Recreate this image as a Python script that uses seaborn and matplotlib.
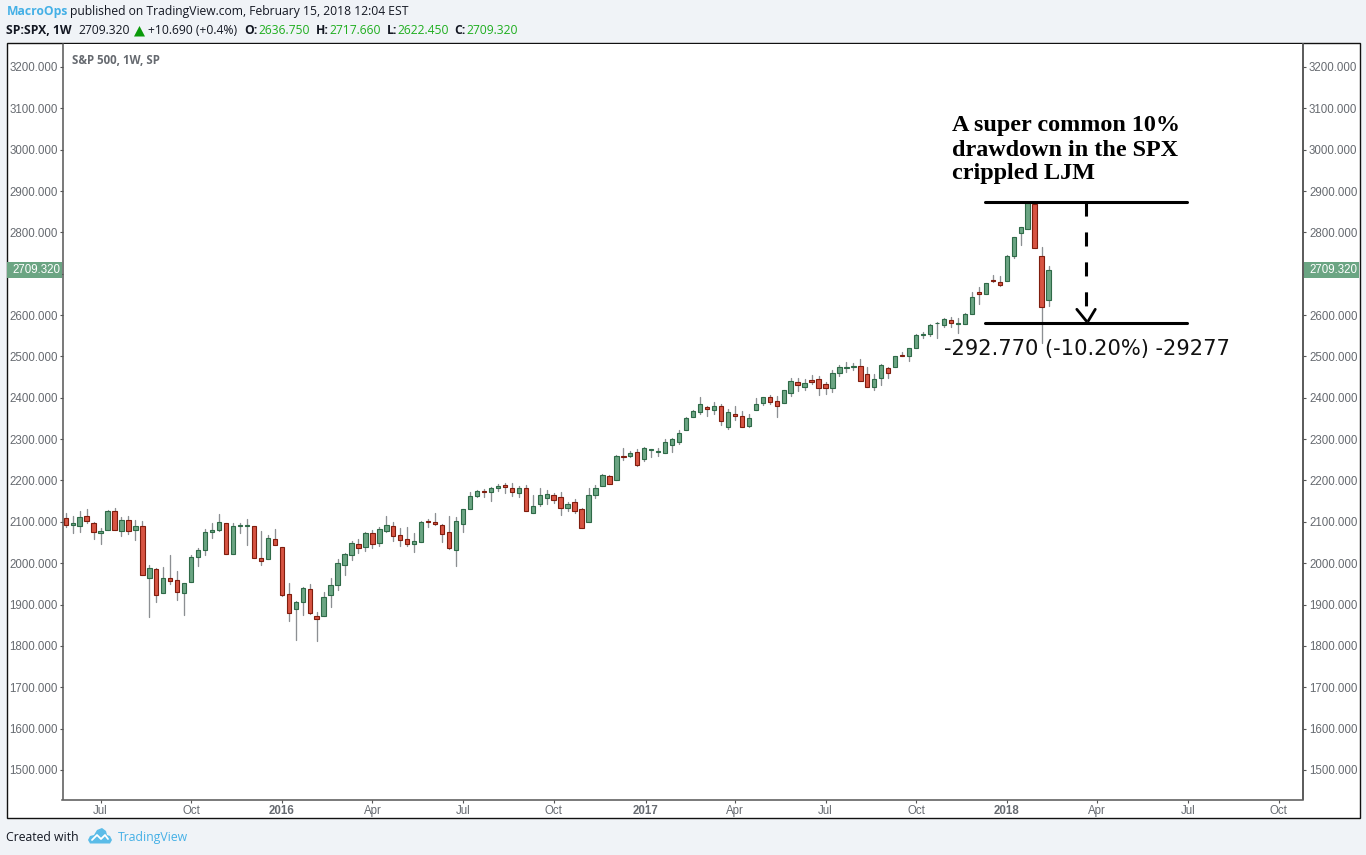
import pandas as pd
import matplotlib
matplotlib.use("Agg")
import matplotlib.pyplot as plt
import seaborn as sns
from matplotlib.lines import Line2D
from matplotlib.patches import Rectangle, Polygon

# weekly S&P 500 candles
opens = [2110, 2092, 2090, 2113, 2098, 2073, 2081, 2127, 2079, 2105, 2080, 2091, 1965, 1986, 1928, 1963, 1960, 1928,
         1955, 2014, 2033, 2076, 2080, 2098, 2023, 2089, 2090, 2090, 2013, 2010, 2059, 2038, 1925, 1890, 1906, 1938,
         1873, 1873, 1923, 1948, 1996, 2020, 2047, 2038, 2074, 2050, 2078, 2091, 2067, 2058, 2047, 2052, 2101, 2100,
         2092, 2076, 2032, 2095, 2132, 2162, 2174, 2172, 2183, 2188, 2183, 2170, 2183, 2121, 2143, 2158, 2165, 2161,
         2133, 2149, 2130, 2100, 2165, 2187, 2212, 2201, 2260, 2259, 2268, 2252, 2274, 2270, 2267, 2285, 2293, 2323,
         2354, 2365, 2377, 2371, 2379, 2329, 2362, 2357, 2332, 2370, 2387, 2401, 2393, 2387, 2411, 2439, 2427, 2444,
         2445, 2433, 2423, 2460, 2471, 2475, 2478, 2457, 2426, 2448, 2471, 2475, 2504, 2500, 2520, 2552, 2554, 2580,
         2577, 2587, 2578, 2578, 2602, 2657, 2651, 2686, 2679, 2683, 2743, 2799, 2809, 2868, 2742, 2636.75]
highs = [2122, 2115, 2127, 2130, 2099, 2084, 2129, 2134, 2111, 2113, 2105, 2103, 1995, 1988, 1990, 2021, 1980, 1952,
         2020, 2036, 2082, 2097, 2118, 2098, 2098, 2096, 2106, 2091, 2078, 2067, 2082, 2038, 1951, 1909, 1942, 1949,
         1883, 1931, 1963, 2009, 2024, 2053, 2058, 2076, 2080, 2088, 2114, 2100, 2084, 2088, 2072, 2101, 2106, 2121,
         2095, 2113, 2111, 2132, 2171, 2177, 2179, 2185, 2191, 2195, 2195, 2187, 2188, 2164, 2181, 2177, 2169, 2171,
         2149, 2156, 2134, 2183, 2190, 2216, 2213, 2261, 2278, 2272, 2275, 2280, 2277, 2278, 2301, 2302, 2322, 2354,
         2370, 2401, 2381, 2391, 2384, 2372, 2380, 2367, 2362, 2399, 2402, 2406, 2404, 2419, 2447, 2447, 2445, 2455,
         2453, 2439, 2466, 2479, 2486, 2483, 2493, 2475, 2457, 2481, 2474, 2501, 2510, 2520, 2554, 2560, 2578, 2584,
         2592, 2596, 2592, 2605, 2657, 2667, 2678, 2697, 2694, 2745, 2790, 2814, 2872, 2872, 2764, 2717.66]
lows = [2087, 2074, 2075, 2096, 2059, 2046, 2080, 2080, 2066, 2071, 2055, 1971, 1871, 1905, 1927, 1950, 1911, 1874,
        1954, 1993, 2020, 2060, 2079, 2022, 2022, 2072, 2044, 2012, 1996, 2009, 2043, 1921, 1860, 1814, 1875, 1876,
        1812, 1872, 1895, 1934, 1971, 2008, 2025, 2030, 2036, 2042, 2075, 2054, 2042, 2041, 2027, 2051, 2088, 2092,
        2052, 2035, 1993, 2075, 2131, 2161, 2160, 2150, 2174, 2170, 2163, 2160, 2126, 2121, 2139, 2142, 2146, 2116,
        2127, 2122, 2085, 2100, 2158, 2187, 2191, 2200, 2250, 2258, 2235, 2247, 2256, 2259, 2266, 2269, 2288, 2322,
        2353, 2361, 2356, 2361, 2335, 2324, 2346, 2329, 2330, 2370, 2383, 2385, 2353, 2387, 2404, 2416, 2420, 2433,
        2407, 2408, 2413, 2453, 2463, 2466, 2441, 2425, 2419, 2431, 2448, 2474, 2500, 2489, 2520, 2544, 2549, 2545,
        2570, 2570, 2557, 2578, 2602, 2627, 2650, 2679, 2671, 2682, 2739, 2769, 2808, 2763, 2533, 2622.45]
closes = [2092, 2096, 2111, 2103, 2076, 2078, 2127, 2081, 2105, 2079, 2091, 1972, 1989, 1922, 1963, 1957, 1930, 1952,
          2016, 2033, 2076, 2080, 2100, 2023, 2091, 2092, 2093, 2013, 2006, 2062, 2044, 1922, 1880, 1906, 1941, 1880,
          1865, 1919, 1948, 2001, 2023, 2050, 2037, 2074, 2047, 2082, 2093, 2066, 2057, 2047, 2053, 2100, 2099, 2094,
          2071, 2037, 2103, 2130, 2163, 2175, 2171, 2183, 2187, 2184, 2171, 2181, 2127, 2139, 2166, 2168, 2153, 2134,
          2142, 2127, 2086, 2166, 2183, 2214, 2192, 2260, 2257, 2266, 2238, 2278, 2276, 2272, 2294, 2300, 2316, 2352,
          2367, 2384, 2374, 2380, 2344, 2365, 2356, 2329, 2350, 2384, 2401, 2390, 2380, 2418, 2440, 2432, 2435, 2439,
          2424, 2424, 2459, 2474, 2474, 2478, 2441, 2427, 2445, 2479, 2461, 2500, 2502, 2520, 2552, 2555, 2575, 2582,
          2590, 2582, 2580, 2603, 2643, 2651, 2677, 2682, 2672, 2744, 2788, 2812, 2872, 2763, 2620, 2709.32]

price_ticks = [3200, 3100, 3000, 2900, 2800, 2700, 2600, 2500, 2400, 2300, 2200, 2100, 2000, 1900, 1800, 1700, 1600, 1500]
date_weeks = [5, 18, 31, 44, 57, 70, 83.2, 96, 109, 122, 135, 148, 161, 174]
date_labels = ["Jul", "Oct", "2016", "Apr", "Jul", "Oct", "2017", "Apr", "Jul", "Oct", "2018", "Apr", "Jul", "Oct"]

last_price = 2709.32
drawdown_top = 2872.87
drawdown_bottom = 2580.10

W, H = 1366, 855
GREEN_FILL, GREEN_EDGE = "#6ba583", "#2f6a48"
RED_FILL, RED_EDGE = "#d75442", "#7f1d0e"
GREY = "#666a70"
BLUE = "#45b0e6"
PRICE_GREEN = "#1eae1e"
AXIS = "#555555"


def fx(px):
    return px / W


def fy(px):
    return 1 - px / H


def top_text(x, y, s, color="#131722", weight="normal", size=8.7, family="Open Sans"):
    fig.text(fx(x), fy(y), s, color=color, fontweight=weight, fontsize=size, family=family,
             ha="left", va="center")


def price_label(p):
    # the 2700 label sits under the last price tag
    return "" if p == 2700 else f"{p:.3f}"


sns.set_theme(style="white")
plt.rcParams["font.family"] = ["Liberation Sans", "DejaVu Sans"]

fig = plt.figure(figsize=(W / 100, H / 100), dpi=100, facecolor="#f0f3f7")

# outer white frame of the chart
fig.add_artist(Rectangle((fx(6.5), fy(818)), fx(1353), 774.7 / H, transform=fig.transFigure,
                         facecolor="white", edgecolor="#111111", linewidth=1.0, zorder=0))

ax = fig.add_axes([fx(62.5), fy(799.5), fx(1303 - 62.5), (799.5 - 44) / H], facecolor="white", zorder=2)

df = pd.DataFrame({"week": range(len(opens)), "open": opens, "high": highs, "low": lows, "close": closes})
df["bottom"] = df[["open", "close"]].min(axis=1)
df["height"] = (df["close"] - df["open"]).abs()

wicks = pd.concat([df[["week", "low"]].rename(columns={"low": "price"}),
                   df[["week", "high"]].rename(columns={"high": "price"})])
sns.lineplot(data=wicks, x="week", y="price", units="week", estimator=None, sort=False,
             color="#8c8f93", linewidth=0.95, legend=False, ax=ax, zorder=2)

up = df[df["close"] >= df["open"]]
down = df[df["close"] < df["open"]]
for part, fill, edge in [(up, GREEN_FILL, GREEN_EDGE), (down, RED_FILL, RED_EDGE)]:
    sns.barplot(data=part, x="week", y="height", bottom=part["bottom"].values, native_scale=True, errorbar=None,
                color=fill, saturation=1, width=0.62, edgecolor=edge, linewidth=0.8, ax=ax, zorder=3)

# drawdown annotation
ax.plot([131.9, 160.9], [drawdown_top, drawdown_top], color="black", lw=2.2, solid_capstyle="round", zorder=5)
ax.plot([131.9, 160.9], [drawdown_bottom, drawdown_bottom], color="black", lw=2.2, solid_capstyle="round", zorder=5)
ax.plot([146.4, 146.4], [drawdown_top, 2619.6], color="black", lw=2.2, dashes=(4.6, 5.2),
        dash_capstyle="butt", zorder=5)
ax.plot([145.05, 146.4], [2614, 2586], color="black", lw=2.0, zorder=5)
ax.plot([147.7, 146.7], [2614, 2586], color="black", lw=2.0, zorder=5)

ax.set_xlim(-0.46, 177.5)
ax.set_ylim(1428.5, 3255.6)
ax.set_xlabel("")
ax.set_ylabel("")
ax.set_xticks(date_weeks)
ax.set_xticklabels(date_labels)
ax.set_yticks(price_ticks)
ax.set_yticklabels([price_label(p) for p in price_ticks])
ax.tick_params(axis="y", length=2.5, width=0.8, color=AXIS, labelcolor=GREY, labelsize=8.3, pad=1, left=True)
ax.tick_params(axis="x", length=2.5, width=0.8, color=AXIS, labelcolor=GREY, labelsize=8.3, pad=1.5, bottom=True)
for lab in ax.get_xticklabels():
    if lab.get_text() in ("2016", "2017", "2018"):
        lab.set_fontweight("bold")
for side in ["left", "bottom", "right"]:
    ax.spines[side].set_color(AXIS)
    ax.spines[side].set_linewidth(1.1)
ax.spines["top"].set_visible(False)

right = ax.twinx()
right.set_ylim(ax.get_ylim())
right.set_yticks(price_ticks)
right.set_yticklabels([price_label(p) for p in price_ticks])
right.tick_params(axis="y", length=2.5, width=0.8, color=AXIS, labelcolor=GREY, labelsize=8.3, pad=1.8)
right.grid(False)
for side in ["left", "bottom", "top"]:
    right.spines[side].set_visible(False)
right.spines["right"].set_color(AXIS)
right.spines["right"].set_linewidth(1.1)

# last price tags on both scales
tag_y = 270
for x0, x1 in [(7, 62), (1304, 1359)]:
    fig.add_artist(Rectangle((fx(x0), fy(tag_y + 8)), fx(x1 - x0), 16 / H, transform=fig.transFigure,
                             facecolor=GREEN_FILL, edgecolor="none", zorder=4))
    fig.text(fx(x1 - 1.5), fy(tag_y), f"{last_price:.3f}", color="white", fontsize=8.3,
             ha="right", va="center", zorder=5)

# header lines
top_text(6.4, 12, "MacroOps", color=BLUE, weight="bold")
top_text(70, 12, "published on TradingView.com, February 15, 2018 12:04 EST")
top_text(6.4, 31, "SP:SPX, 1W", weight="bold")
top_text(78, 31, "2709.320")
fig.add_artist(Polygon([(fx(134), fy(36.5)), (fx(145), fy(36.5)), (fx(139.5), fy(26))], closed=True,
                       transform=fig.transFigure, facecolor="#0a9a0a", edgecolor="none"))
top_text(148, 31, "+10.690 (+0.4%)")
for x_lab, x_val, lab, val in [(244, 258, "O:", "2636.750"), (316, 329, "H:", "2717.660"),
                               (387, 397, "L:", "2622.450"), (454, 466, "C:", "2709.320")]:
    top_text(x_lab, 31, lab, weight="bold")
    top_text(x_val, 31, val, color=PRICE_GREEN)

top_text(72, 60.5, "S&P 500, 1W, SP", color=GREY, size=8.3, weight="bold")

# serif note and measure text
for y, line in [(124, "A super common 10%"), (148, "drawdown in the SPX"), (172, "crippled LJM")]:
    top_text(952, y + 2, line, color="black", weight="bold", size=17.4, family="Liberation Serif")
top_text(944, 348.5, "-292.770 (-10.20%) -29277", color="#111111", size=15.1, family="DejaVu Sans")

# footer
top_text(6.3, 837, "Created with", size=8.8)
logo = [(88, 840), (90, 836), (94, 835), (97, 830), (102, 828), (106, 831), (107, 835), (110, 836), (112, 840),
        (110, 843.5), (90, 843.5)]
fig.add_artist(Polygon([(fx(x), fy(y)) for x, y in logo], closed=True, transform=fig.transFigure,
                       facecolor="#5bbce8", edgecolor="none"))
zig = [(92, 840), (97, 835), (101, 839), (105, 835), (108, 839)]
fig.add_artist(Line2D([fx(x) for x, _ in zig], [fy(y) for _, y in zig], transform=fig.transFigure,
                      color="white", linewidth=1.3))
top_text(118, 837.5, "TradingView", color=BLUE, size=8.8)

fig.savefig("out.png", dpi=100, facecolor=fig.get_facecolor())
